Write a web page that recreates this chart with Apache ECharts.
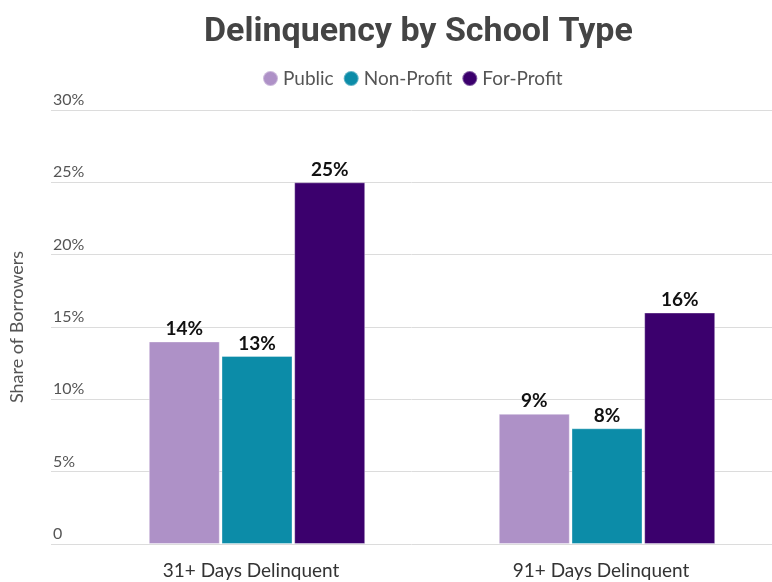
<!DOCTYPE html>
<html>
<head>
<meta charset="utf-8">
<script src="https://cdn.jsdelivr.net/npm/echarts@6/dist/echarts.min.js"></script>
<style>
  html, body { margin: 0; padding: 0; background: #fff; }
  #chart { width: 772px; height: 582px; }
</style>
</head>
<body>
<div id="chart"></div>
<script>
var categories = ["31+ Days Delinquent", "91+ Days Delinquent"];
var seriesNames = ["Public", "Non-Profit", "For-Profit"];
var publicValues = [14, 9];
var nonProfitValues = [13, 8];
var forProfitValues = [25, 16];
var colors = ["#ae91c7", "#0c8ca8", "#3b006d"];

var chart = echarts.init(document.getElementById("chart"));

function makeSeries(name, data, color) {
  return {
    name: name,
    type: "bar",
    xAxisIndex: 1,
    yAxisIndex: 1,
    data: data,
    clip: false,
    barWidth: 71,
    barGap: "2.4%",
    itemStyle: { color: color, borderColor: "rgba(255,255,255,0.35)", borderWidth: 1 },
    label: {
      show: true,
      position: "top",
      distance: 3,
      formatter: "{c}%",
      color: "#111",
      fontWeight: "bold",
      fontSize: 19,
      fontFamily: "Lato"
    }
  };
}

chart.setOption({
  animation: false,
  title: {
    text: "Delinquency by School Type",
    left: 199,
    top: 10,
    textStyle: { fontFamily: "Roboto", fontWeight: "bold", fontSize: 34, color: "#444" }
  },
  legend: {
    data: seriesNames,
    top: 64,
    left: 257,
    icon: "circle",
    itemWidth: 15,
    itemHeight: 15,
    itemGap: 9,
    textStyle: { fontFamily: "Lato", fontSize: 19, color: "#555" }
  },
  grid: [
    { left: 50, right: 0, top: 110, bottom: 38 },
    // bar grid: category ticks sit on the two group centres
    { left: 257, right: 165, top: 110, bottom: 38 }
  ],
  xAxis: [
    { type: "category", gridIndex: 0, data: categories, show: false },
    {
      type: "category",
      gridIndex: 1,
      data: categories,
      boundaryGap: false,
      axisLine: { show: false },
      axisTick: { show: false },
      axisLabel: {
        fontFamily: "Lato",
        fontSize: 19,
        color: "#333",
        margin: 17,
        padding: [0, 12, 0, 0]
      }
    }
  ],
  yAxis: [
    {
      type: "value",
      gridIndex: 0,
      min: 0,
      max: 30,
      interval: 5,
      name: "Share of Borrowers",
      nameLocation: "middle",
      nameGap: 25,
      nameTextStyle: { fontFamily: "Lato", fontSize: 18, color: "#555" },
      axisLine: { show: false },
      axisTick: { show: false },
      splitLine: { lineStyle: { color: "#dcdcdc", width: 1 } },
      axisLabel: {
        inside: true,
        margin: 2,
        align: "left",
        verticalAlign: "bottom",
        padding: [0, 0, 2, 0],
        fontFamily: "Lato",
        fontSize: 16,
        color: "#555",
        formatter: function (v) { return v === 0 ? "0" : v + "%"; }
      }
    },
    { type: "value", gridIndex: 1, min: 0, max: 30, interval: 5, show: false }
  ],
  series: [
    makeSeries(seriesNames[0], publicValues, colors[0]),
    makeSeries(seriesNames[1], nonProfitValues, colors[1]),
    makeSeries(seriesNames[2], forProfitValues, colors[2])
  ]
});
</script>
</body>
</html>
